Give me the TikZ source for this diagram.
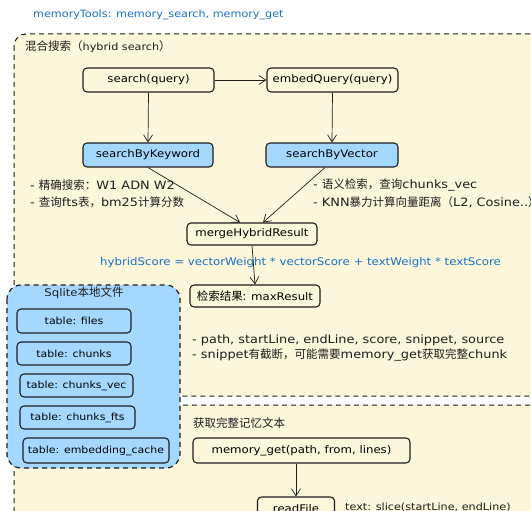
\documentclass[tikz,border=0pt]{standalone}
\usepackage{fontspec}
\setmainfont{DejaVu Sans}[FakeStretch=1.12]
\newfontfamily\cjkf{Noto Sans CJK SC}
\newcommand{\cjk}{\cjkf}
\newcommand{\cjkL}{\cjkf\fontsize{11.5}{13}\selectfont}
\usetikzlibrary{arrows.meta,calc}
\definecolor{ink}{HTML}{1E1E1E}
\definecolor{bluetxt}{HTML}{1971C2}
\definecolor{boxblue}{HTML}{A5D8FF}
\definecolor{panelyel}{HTML}{FCF6DA}
\tikzset{
  panel/.style={draw=ink, dashed, dash pattern=on 5pt off 4pt, line width=1pt, rounded corners=12pt, fill=panelyel},
  dbpanel/.style={draw=ink, dashed, dash pattern=on 5pt off 4pt, line width=1.2pt, rounded corners=14pt, fill=boxblue},
  fbox/.style={draw=ink, line width=1.1pt, rounded corners=4pt, fill=white, inner sep=0pt, font=\fontsize{10.5}{12}\selectfont},
  wbox/.style={fbox, fill=panelyel},
  bbox/.style={fbox, fill=boxblue},
  tbox/.style={fbox, fill=boxblue, font=\fontsize{9.8}{12}\selectfont},
  note/.style={anchor=west, inner sep=0pt, text=ink, font=\fontsize{11.5}{13}\selectfont},
  head/.style={anchor=west, inner sep=0pt, text=ink, font=\fontsize{10}{12}\selectfont},
  bnote/.style={note, text=bluetxt, font=\fontsize{10.5}{12}\selectfont},
  arr/.style={draw=ink, line width=0.7pt, -{Straight Barb[length=7pt,width=9pt,line width=0.7pt]}},
}
\begin{document}
\begin{tikzpicture}[x=1pt,y=-1pt]
\useasboundingbox (0,0) rectangle (531,511);
\fill[white] (0,0) rectangle (531,511);
% panels
\draw[panel] (14,34) rectangle (545,396);
\draw[panel] (14,405) rectangle (545,560);
\draw[dbpanel] (7,285) rectangle (180,468);
% title
\node[bnote, font=\fontsize{10}{12}\selectfont] (title) at (33,15) {memoryTools: memory\_search, memory\_get};
\node[head] (hyb) at (25,47) {{\cjkL 混合搜索（}hybrid search{\cjkL ）}};
% main boxes
\node[wbox, minimum width=131pt, minimum height=24pt] (sq) at (148.5,80) {search(query)};
\node[wbox, minimum width=131pt, minimum height=24pt] (eq) at (332.5,80) {embedQuery(query)};
\node[bbox, minimum width=130pt, minimum height=24pt] (kw) at (148,155) {searchByKeyword};
\node[bbox, minimum width=132pt, minimum height=24pt] (vec) at (332,155) {searchByVector};
\node[wbox, minimum width=130pt, minimum height=22pt] (merge) at (252,234) {mergeHybridResult};
\node[wbox, minimum width=130pt, minimum height=22pt] (res) at (255,296) {{\cjkL 检索结果:} maxResult};
% arrows
\draw[arr] (sq.east) -- (eq.west);
\draw[arr] (sq.south) -- (kw.north);
\draw[arr] (eq.south) -- (vec.north);
\draw[arr] (kw.south) -- ([xshift=-12pt]merge.north);
\draw[arr] ([xshift=-7pt]vec.south) -- ([xshift=11pt]merge.north);
\draw[arr] (merge.south) -- (res.north);
% notes
\node[note] (nl1) at (30,185) {- {\cjk 精确搜索：}W1 ADN W2};
\node[note] (nl2) at (30,202) {- {\cjk 查询}fts{\cjk 表，}bm25{\cjk 计算分数}};
\node[note] (nr1) at (313,185) {- {\cjk 语义检索，查询}chunks\_vec};
\node[note] (nr2) at (313,202) {- KNN{\cjk 暴力计算向量距离（}L2, Cosine..{\cjk ）}};
\node[bnote] (formula) at (100,263) {hybridScore = vectorWeight * vectorScore + textWeight * textScore};
\node[note] (rn1) at (192,340) {- path, startLine, endLine, score, snippet, source};
\node[note] (rn2) at (192,355) {- snippet{\cjk 有截断，可能需要}memory\_get{\cjk 获取完整}chunk};
% sqlite
\node[head, anchor=center, font=\fontsize{10.5}{12}\selectfont] (sqlt) at (84,293) {Sqlite{\cjkL 本地文件}};
\node[tbox, minimum width=114pt, minimum height=24pt] (t1) at (74,321) {table: files};
\node[tbox, minimum width=114pt, minimum height=23pt] (t2) at (74,353.5) {table: chunks};
\node[tbox, minimum width=113pt, minimum height=23pt] (t3) at (76.5,385.5) {table: chunks\_vec};
\node[tbox, minimum width=115pt, minimum height=23pt] (t4) at (77.5,417.5) {table: chunks\_fts};
\node[tbox, minimum width=146pt, minimum height=25pt] (t5) at (96,450.5) {table: embedding\_cache};
% memory_get
\node[head] (gettitle) at (193,423) {\cjkL 获取完整记忆文本};
\node[wbox, minimum width=217pt, minimum height=25pt] (mg) at (301.5,450.5) {memory\_get(path, from, lines)};
\node[wbox, minimum width=77pt, minimum height=24pt] (rf) at (296,509) {readFile};
\draw[arr] (rf.north |- mg.south) -- (rf.north);
\node[head, font=\fontsize{10}{12}\selectfont] (slice) at (345,507) {text: slice(startLine, endLine)};
\end{tikzpicture}
\end{document}
